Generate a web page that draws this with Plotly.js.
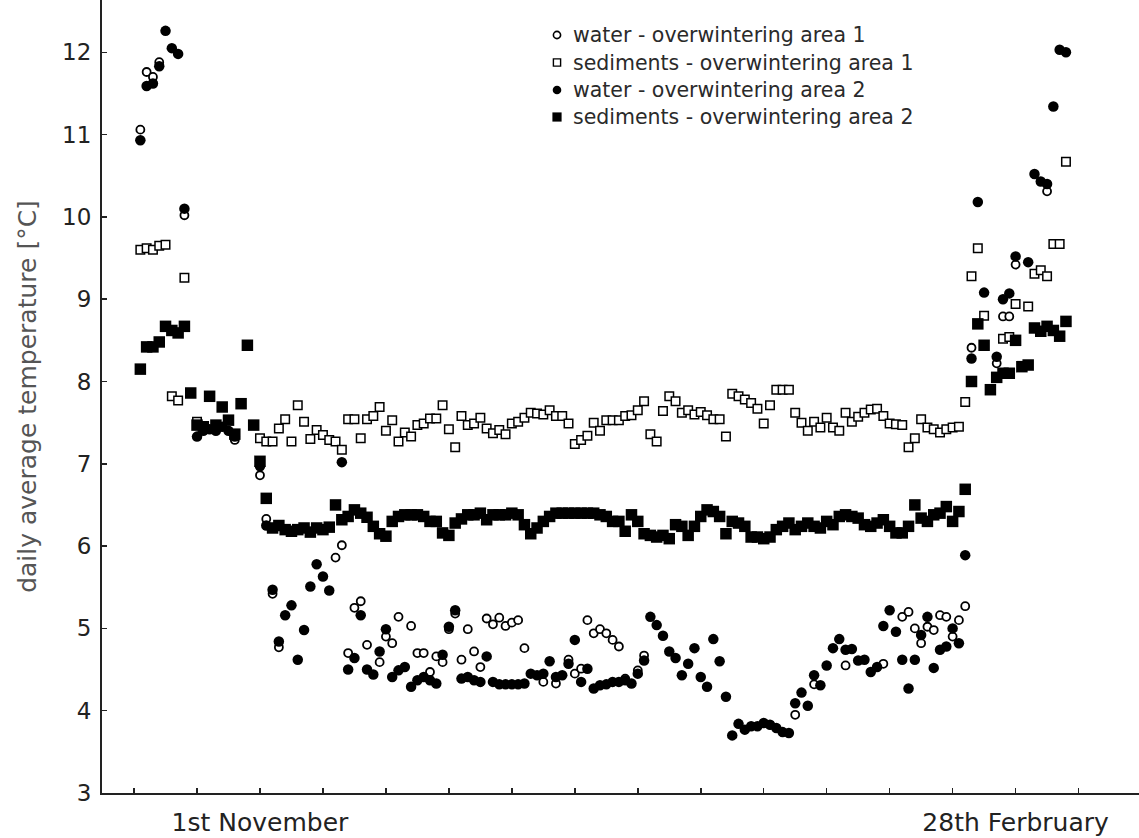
<!DOCTYPE html>
<html>
<head>
<meta charset="utf-8">
<script src="https://cdn.plot.ly/plotly-3.0.1.min.js"></script>
<style>html,body{margin:0;padding:0;background:#fff;}#chart{width:1139px;height:838px;}</style>
</head>
<body>
<div id="chart"></div>
<script>
// days relative to 1st November (day 0)
const days = [-19,-18,-17,-16,-15,-14,-13,-12,-11,-10,-9,-8,-7,-6,-5,-4,-3,-2,-1,
  0,1,2,3,4,5,6,7,8,9,10,11,12,13,14,15,16,17,18,19,
  20,21,22,23,24,25,26,27,28,29,30,31,32,33,34,35,36,37,38,39,
  40,41,42,43,44,45,46,47,48,49,50,51,52,53,54,55,56,57,58,59,
  60,61,62,63,64,65,66,67,68,69,70,71,72,73,74,75,76,77,78,79,
  80,81,82,83,84,85,86,87,88,89,90,91,92,93,94,95,96,97,98,99,
  100,101,102,103,104,105,106,107,108,109,110,111,112,113,114,115,116,117,118,119,
  120,121,122,123,124,125,126,127,128];

const water1 = [11.06,11.76,11.70,11.88,null,null,null,10.02,null,null,null,null,null,null,null,7.29,null,null,null,
  6.86,6.33,5.42,4.77,null,null,null,null,null,null,null,null,5.86,6.01,4.70,5.25,5.33,4.80,null,4.59,
  4.90,4.82,5.14,null,5.03,4.70,4.70,4.47,4.66,4.59,4.99,5.18,4.62,4.99,4.72,4.53,5.12,5.05,5.13,5.03,
  5.07,5.10,4.76,null,null,4.35,null,4.33,null,4.62,4.45,4.51,5.10,4.94,4.99,4.94,4.86,4.78,4.39,null,
  4.49,4.67,null,null,null,null,null,null,null,null,null,null,null,null,null,null,null,null,null,null,
  null,null,null,null,null,3.95,null,null,4.32,null,null,null,null,4.55,null,null,null,null,null,4.57,
  null,null,5.14,5.20,5.00,4.82,5.02,4.98,5.16,5.14,4.90,5.10,5.27,8.41,null,null,null,8.22,8.79,8.79,
  9.42,null,null,null,null,10.31,null,null,null];

const sediments1 = [9.60,9.62,9.60,9.65,9.66,7.82,7.77,9.26,null,7.51,null,null,null,null,null,null,null,null,null,
  7.31,7.27,7.27,7.43,7.54,7.27,7.71,7.51,7.30,7.41,7.35,7.29,7.27,7.17,7.54,7.54,7.31,7.54,7.58,7.69,
  7.40,7.53,7.27,7.38,7.33,7.47,7.49,7.55,7.55,7.71,7.42,7.20,7.58,7.47,7.49,7.56,7.43,7.37,7.41,7.36,
  7.49,7.51,7.56,7.62,7.61,7.60,7.65,7.58,7.58,7.49,7.24,7.29,7.34,7.50,7.40,7.53,7.53,7.53,7.58,7.59,
  7.65,7.76,7.36,7.27,7.64,7.82,7.76,7.62,7.65,7.60,7.63,7.59,7.54,7.54,7.33,7.85,7.82,7.78,7.74,7.67,
  7.49,7.71,7.90,7.90,7.90,7.62,7.50,7.40,7.51,7.44,7.56,7.44,7.40,7.62,7.51,7.57,7.62,7.66,7.67,7.58,
  7.49,7.48,7.47,7.20,7.31,7.54,7.44,7.42,7.38,7.42,7.44,7.45,7.75,9.28,9.62,8.80,null,null,8.52,8.54,
  8.94,null,8.91,9.31,9.35,9.28,9.67,9.67,10.67];

const water2 = [10.93,11.59,11.62,11.83,12.26,12.05,11.98,10.10,null,7.33,7.40,7.42,7.40,7.45,7.40,7.33,null,null,null,
  6.97,6.25,5.47,4.84,5.16,5.28,4.62,4.98,5.51,5.78,5.63,5.46,null,7.02,4.50,4.64,5.16,4.50,4.44,4.72,
  4.99,4.41,4.49,4.53,4.29,4.37,4.41,4.37,4.33,4.68,5.02,5.22,4.39,4.41,4.37,4.35,4.66,4.35,4.32,4.32,
  4.32,4.32,4.33,4.45,4.43,4.45,4.60,4.41,4.43,4.57,4.86,4.35,4.51,4.27,4.31,4.32,4.35,4.35,4.37,4.33,
  4.45,4.61,5.14,5.04,4.91,4.72,4.64,4.43,4.57,4.76,4.41,4.29,4.87,4.60,4.17,3.70,3.84,3.77,3.81,3.81,
  3.85,3.83,3.79,3.74,3.73,4.09,4.22,4.06,4.43,4.31,4.55,4.76,4.87,4.74,4.75,4.61,4.62,4.47,4.53,5.03,
  5.22,4.96,4.62,4.27,4.62,4.92,5.14,4.52,4.74,4.78,5.00,4.82,5.89,8.28,10.18,9.08,null,8.30,9.00,9.07,
  9.52,null,9.45,10.52,10.43,10.40,11.34,12.03,12.00];

const sediments2 = [8.15,8.42,8.42,8.48,8.67,8.62,8.59,8.67,7.86,7.47,7.45,7.82,7.47,7.69,7.53,7.36,7.73,8.44,7.47,
  7.03,6.58,6.22,6.25,6.20,6.18,6.20,6.22,6.17,6.22,6.20,6.23,6.50,6.32,6.36,6.44,6.40,6.35,6.24,6.15,
  6.12,6.30,6.36,6.38,6.38,6.38,6.36,6.30,6.30,6.16,6.13,6.28,6.33,6.38,6.38,6.40,6.32,6.38,6.38,6.38,
  6.40,6.38,6.26,6.15,6.22,6.30,6.36,6.40,6.40,6.40,6.40,6.40,6.40,6.40,6.38,6.36,6.30,6.30,6.18,6.38,
  6.30,6.15,6.13,6.11,6.13,6.09,6.26,6.24,6.13,6.24,6.36,6.44,6.42,6.36,6.15,6.30,6.28,6.24,6.11,6.11,
  6.09,6.11,6.20,6.24,6.28,6.20,6.24,6.28,6.24,6.22,6.30,6.26,6.36,6.38,6.36,6.34,6.26,6.24,6.28,6.32,
  6.24,6.16,6.16,6.24,6.50,6.34,6.30,6.38,6.40,6.48,6.30,6.42,6.69,8.00,8.70,8.44,7.90,8.05,8.10,8.10,
  8.50,8.18,8.20,8.65,8.61,8.67,8.62,8.55,8.73];

const seriesNames = ['water - overwintering area 1','sediments - overwintering area 1',
  'water - overwintering area 2','sediments - overwintering area 2'];
const tickDays = [-20,-10,0,10,20,30,40,50,60,70,80,90,100,110,120,130];
const tickLabels = ['','','1st November','','','','','','','','','','','','28th Ferbruary',''];
const yTicks = [3,4,5,6,7,8,9,10,11,12];

const font = 'DejaVu Sans, Verdana, sans-serif';
const W = 1139, H = 838, L = 102, R = 0, T = 0, B = 45;
const plotW = W - L - R, plotH = H - T - B;

const styles = [
  {symbol:'circle', size:8, color:'#fff', line:{color:'#000', width:1.8}},
  {symbol:'square', size:8.5, color:'#fff', line:{color:'#000', width:1.5}},
  {symbol:'circle', size:10.5, color:'#000', line:{color:'#000', width:0}},
  {symbol:'square', size:11.5, color:'#000', line:{color:'#000', width:0}}
];
const values = [water1, sediments1, water2, sediments2];

const traces = values.map((v, i) => ({
  x: days, y: v, type:'scatter', mode:'markers', name: seriesNames[i],
  showlegend:false, marker: styles[i], hoverinfo:'skip', cliponaxis:false
}));

// hand-placed legend (symbols as pixel-sized shapes, labels as annotations)
const legendSymbolX = 557, legendTextX = 572, legendRowY = [35, 62.5, 90, 117];
const legendShapes = [
  {type:'circle', half:3.6, fill:'#fff', lw:1.6},
  {type:'rect', half:3.6, fill:'#fff', lw:1.4},
  {type:'circle', half:4.3, fill:'#000', lw:0},
  {type:'rect', half:4.6, fill:'#000', lw:0}
];
const shapes = [], annotations = [];
seriesNames.forEach((name, i) => {
  const py = 1 - (legendRowY[i] - T) / plotH;
  const s = legendShapes[i];
  shapes.push({type:s.type, xref:'paper', yref:'paper', xsizemode:'pixel', ysizemode:'pixel',
    xanchor:(legendSymbolX - L) / plotW, yanchor:py,
    x0:-s.half, x1:s.half, y0:-s.half, y1:s.half,
    fillcolor:s.fill, line:{color:'#000', width:s.lw}});
  annotations.push({xref:'paper', yref:'paper', x:(legendTextX - L) / plotW, y:py,
    xanchor:'left', yanchor:'middle', text:name, showarrow:false,
    font:{family:font, size:20.5, color:'#2a2a2a'}, borderpad:0});
});

const layout = {
  width:W, height:H,
  margin:{l:L, r:R, t:T, b:B, pad:0},
  paper_bgcolor:'#fff', plot_bgcolor:'#fff',
  font:{family:font, color:'#222'},
  showlegend:false,
  xaxis:{range:[-25.09,139.6], tickmode:'array', tickvals:tickDays, ticktext:tickLabels,
    ticks:'inside', ticklen:5, tickwidth:1.5, tickcolor:'#222',
    showline:true, linecolor:'#222', linewidth:2, showgrid:false, zeroline:false,
    tickfont:{family:font, size:25, color:'#222'}, ticklabelstandoff:6,
    automargin:false, fixedrange:true},
  yaxis:{range:[3,12.635], tickmode:'array', tickvals:yTicks,
    ticks:'inside', ticklen:5, tickwidth:1.5, tickcolor:'#222',
    showline:true, linecolor:'#222', linewidth:2, showgrid:false, zeroline:false,
    tickfont:{family:font, size:23, color:'#222'}, ticklabelstandoff:4,
    title:{text:'daily average temperature [°C]', font:{family:font, size:25, color:'#555'}, standoff:18},
    automargin:false, fixedrange:true},
  shapes:shapes,
  annotations:annotations
};
Plotly.newPlot('chart', traces, layout, {displayModeBar:false, staticPlot:true});
</script>
</body>
</html>
